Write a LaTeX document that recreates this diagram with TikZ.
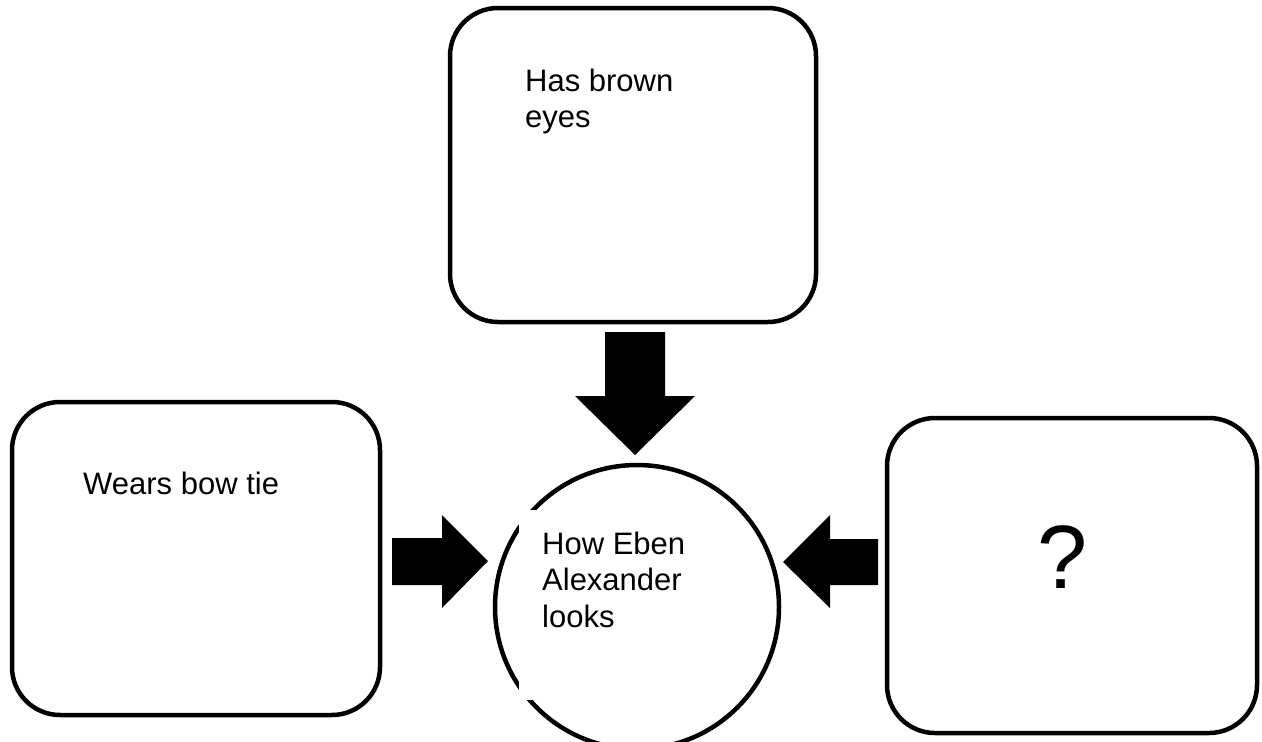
\documentclass[tikz,border=0pt]{standalone}
\usepackage{fontspec}
\setmainfont{Liberation Sans}
\begin{document}
\begin{tikzpicture}[x=1pt,y=-1pt,
  box/.style={draw=black,line width=4.5pt,rounded corners=48pt},
  lbl/.style={inner sep=0pt,anchor=base west,align=left,font=\fontsize{31}{36.6}\selectfont},
  blockarrow/.style={fill=black,draw=none}]
\useasboundingbox (0,0) rectangle (1262,742);
% boxes
\draw[box] (450,8) rectangle (816,322);
\draw[box] (12,402) rectangle (380,715);
\draw[box] (887,418) rectangle (1257,733);
% circle
\draw[line width=4.5pt] (637,607) circle (142);
\fill[white] (519,510) rectangle (700,700);
% texts (base anchor = baseline of last line)
\node[lbl] (t1) at (525,127.6) {Has brown\\eyes};
\node[lbl] (t2) at (83,494) {Wears bow tie};
\node[inner sep=0pt,anchor=base,font=\fontsize{90}{100}\selectfont] (t3) at (1063,588) {?};
\node[lbl] (t4) at (542,627.2) {How Eben\\Alexander\\looks};
% block arrows
\fill[blockarrow] (605,332) -- (665,332) -- (665,396) -- (695,396) -- (635,455) -- (575,396) -- (605,396) -- cycle;
\fill[blockarrow] (392,538) -- (442,538) -- (442,515) -- (488,561) -- (442,608) -- (442,585) -- (392,585) -- cycle;
\fill[blockarrow] (878,539) -- (830,539) -- (830,515) -- (783,562) -- (830,608) -- (830,585) -- (878,585) -- cycle;
\end{tikzpicture}
\end{document}
